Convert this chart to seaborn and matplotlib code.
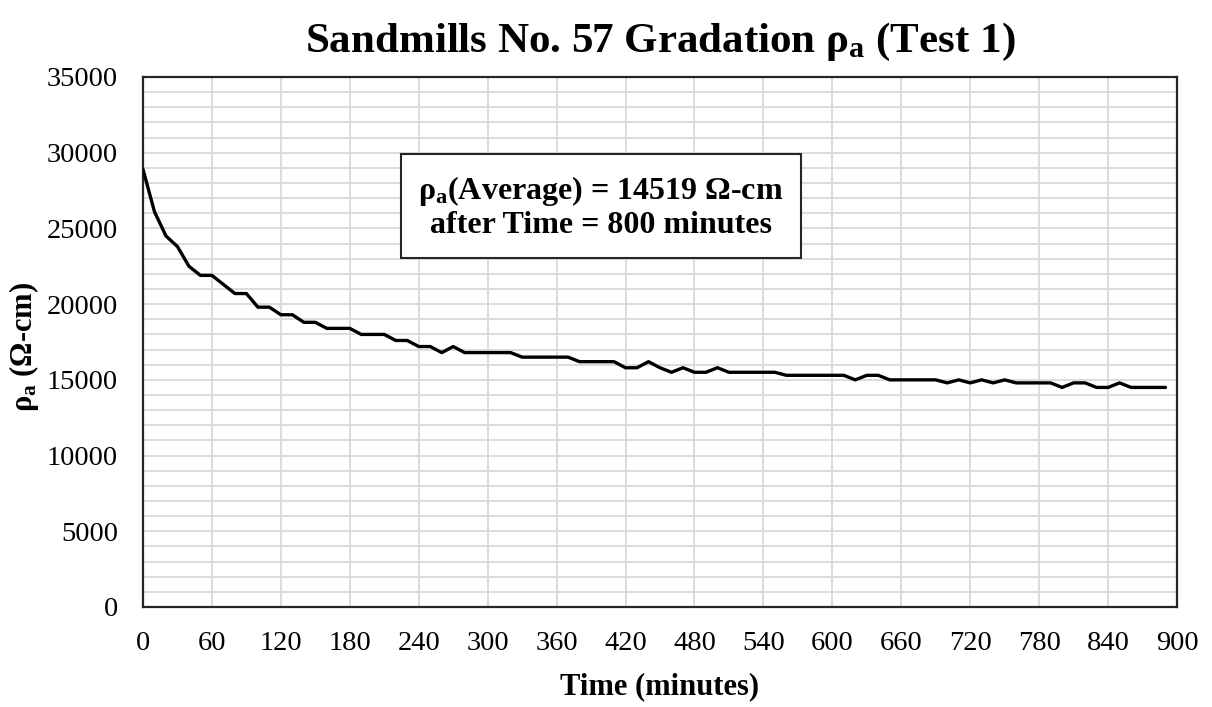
import numpy as np
import pandas as pd
import matplotlib
matplotlib.use('Agg')
import matplotlib.pyplot as plt
import seaborn as sns
from matplotlib.ticker import MultipleLocator

# Data (readings every 10 minutes)
time_min = list(range(0, 900, 10))
rho_a = [
    28900, 26100, 24500, 23800, 22500, 21900, 21900, 21300, 20700, 20700,
    19800, 19800, 19300, 19300, 18800, 18800, 18400, 18400, 18400, 18000,
    18000, 18000, 17600, 17600, 17200, 17200, 16800, 17200, 16800, 16800,
    16800, 16800, 16800, 16500, 16500, 16500, 16500, 16500, 16200, 16200,
    16200, 16200, 15800, 15800, 16200, 15800, 15500, 15800, 15500, 15500,
    15800, 15500, 15500, 15500, 15500, 15500, 15300, 15300, 15300, 15300,
    15300, 15300, 15000, 15300, 15300, 15000, 15000, 15000, 15000, 15000,
    14800, 15000, 14800, 15000, 14800, 15000, 14800, 14800, 14800, 14800,
    14500, 14800, 14800, 14500, 14500, 14800, 14500, 14500, 14500, 14500,
]
x_ticks = list(range(0, 901, 60))
y_ticks = list(range(0, 35001, 5000))
note_lines = ['ρ$_{\\mathbf{a}}$(Average) = 14519 Ω-cm', 'after Time = 800 minutes']

df = pd.DataFrame({'Time': time_min, 'rho': rho_a})

sns.set_theme(style='white')
plt.rcParams['font.family'] = ['Liberation Serif', 'DejaVu Serif']
plt.rcParams['text.color'] = 'black'
plt.rcParams['axes.labelcolor'] = 'black'
plt.rcParams['mathtext.fontset'] = 'custom'
plt.rcParams['mathtext.rm'] = 'Liberation Serif'
plt.rcParams['mathtext.it'] = 'Liberation Serif:bold'
plt.rcParams['mathtext.bf'] = 'Liberation Serif:bold'

fig = plt.figure(figsize=(12.12, 7.07), dpi=100)
ax = fig.add_axes([143 / 1212, 1 - 607 / 707, (1177 - 143) / 1212, (607 - 77) / 707])

sns.lineplot(data=df, x='Time', y='rho', ax=ax, color='black', linewidth=2.4, zorder=3)

ax.set_xlim(0, 900)
ax.set_ylim(0, 35000)
ax.set_xticks(x_ticks)
ax.set_yticks(y_ticks)
ax.yaxis.set_minor_locator(MultipleLocator(1000))
ax.grid(True, which='major', axis='both', color='#d9d9d9', linewidth=1.3)
ax.grid(True, which='minor', axis='y', color='#d9d9d9', linewidth=1.3)
ax.tick_params(axis='both', which='both', length=0, labelsize=20.5, colors='black')
ax.tick_params(axis='x', pad=17)
ax.tick_params(axis='y', pad=18)

for side in ['left', 'bottom', 'top', 'right']:
    ax.spines[side].set_color('#262626')
    ax.spines[side].set_linewidth(1.6)
    ax.spines[side].set_visible(True)

ax.set_xlabel('Time (minutes)', fontsize=22, fontweight='bold', va='center')
ax.xaxis.set_label_coords(0.5, (607 - 687) / 530)
ax.set_ylabel('ρ$_{\\mathbf{a}}$ (Ω-cm)', fontsize=22, fontweight='bold', va='center')
ax.yaxis.set_label_coords((24 - 143) / 1034, 0.49)
ax.set_title('Sandmills No. 57 Gradation ρ$_{\\mathbf{a}}$ (Test 1)', fontsize=31,
             fontweight='bold', pad=18)

ax.text(0.443, 0.755, '\n'.join(note_lines), transform=ax.transAxes, ha='center', va='center',
        fontsize=23, fontweight='bold', linespacing=1.15, zorder=4,
        bbox=dict(boxstyle='square,pad=0.55', facecolor='white', edgecolor='#262626', linewidth=1.5))

fig.savefig('out.png', dpi=100)
